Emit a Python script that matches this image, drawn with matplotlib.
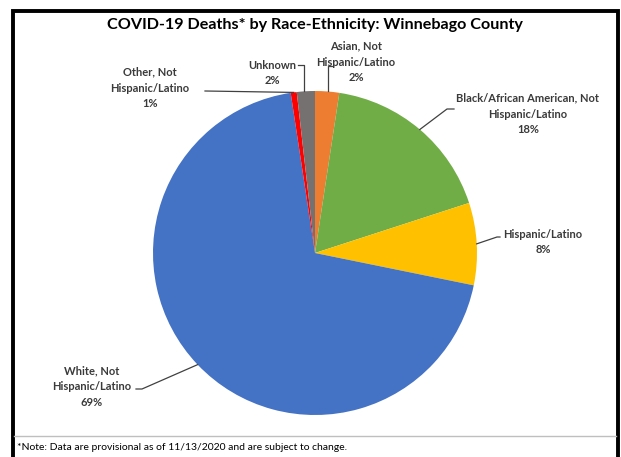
import matplotlib.pyplot as plt
import numpy as np

# slice shares (%), clockwise from 12 o'clock
categories = ['Asian, Not\nHispanic/Latino', 'Black/African American, Not\nHispanic/Latino',
              'Hispanic/Latino', 'White, Not\nHispanic/Latino', 'Other, Not\nHispanic/Latino', 'Unknown']
values = [2.4, 17.6, 8.2, 69.4, 0.6, 1.8]
colors = ['#ED7D31', '#70AD47', '#FFC000', '#4472C4', '#FF0000', '#767171']

W, H = 621, 457
CX, CY, R = 315, 253, 162

plt.rcParams['font.family'] = ['Lato', 'DejaVu Sans']

fig = plt.figure(figsize=(W / 100, H / 100), dpi=100)

# pie axes (square in pixels)
ax = fig.add_axes([(CX - R) / W, (H - CY - R) / H, 2 * R / W, 2 * R / H])
wedges, _ = ax.pie(values, colors=colors, startangle=90, counterclock=False, radius=1,
                   wedgeprops=dict(linewidth=0))
ax.set_xlim(-1, 1)
ax.set_ylim(-1, 1)
ax.set_aspect('auto')
ax.axis('off')

# overlay in pixel coords for frame, title, labels
top = fig.add_axes([0, 0, 1, 1], zorder=5)
top.set_xlim(0, W)
top.set_ylim(H, 0)
top.axis('off')

# frame
top.plot([12.5, 12.5, 617.5, 617.5], [H + 5, 10.5, 10.5, H + 5], color='black', lw=2.8,
         solid_joinstyle='miter')
top.plot([14, 616], [435.5, 435.5], color='#BFBFBF', lw=1)

top.text(315, 25, 'COVID-19 Deaths* by Race-Ethnicity: Winnebago County', ha='center', va='center',
         fontsize=11.6, fontweight='bold', color='black')
top.text(17, 448, '*Note: Data are provisional as of 11/13/2020 and are subject to change.',
         ha='left', va='center', fontsize=7.5, color='black')


def edge_pt(w):
    th = np.deg2rad((w.theta1 + w.theta2) / 2)
    return CX + R * np.cos(th), CY - R * np.sin(th)


# label centre positions and leader paths (layout)
label_pos = [(356, 62), (528, 114), (543, 242), (92, 387), (150, 88), (272, 73)]
leader_elbow = [(328, 66, 333, 66), (447, 109, 454, 109), (497, 237, 500, 237),
                (142, 389, 136, 389), (205, 91, 205, 91), (304, 65, 298, 65)]

for i, w in enumerate(wedges):
    lbl = f"{categories[i]}\n{round(values[i])}%"
    x, y = label_pos[i]
    top.text(x, y, lbl, ha='center', va='center', fontsize=8, fontweight='bold',
             color='#3A3A3A', linespacing=1.55)
    px, py = edge_pt(w)
    ex, ey, tx, ty = leader_elbow[i]
    if i in (0, 5):
        px = ex
    top.plot([px, ex, tx], [py, ey, ty], color='#404040', lw=0.9)

fig.savefig('out.png', dpi=100)
